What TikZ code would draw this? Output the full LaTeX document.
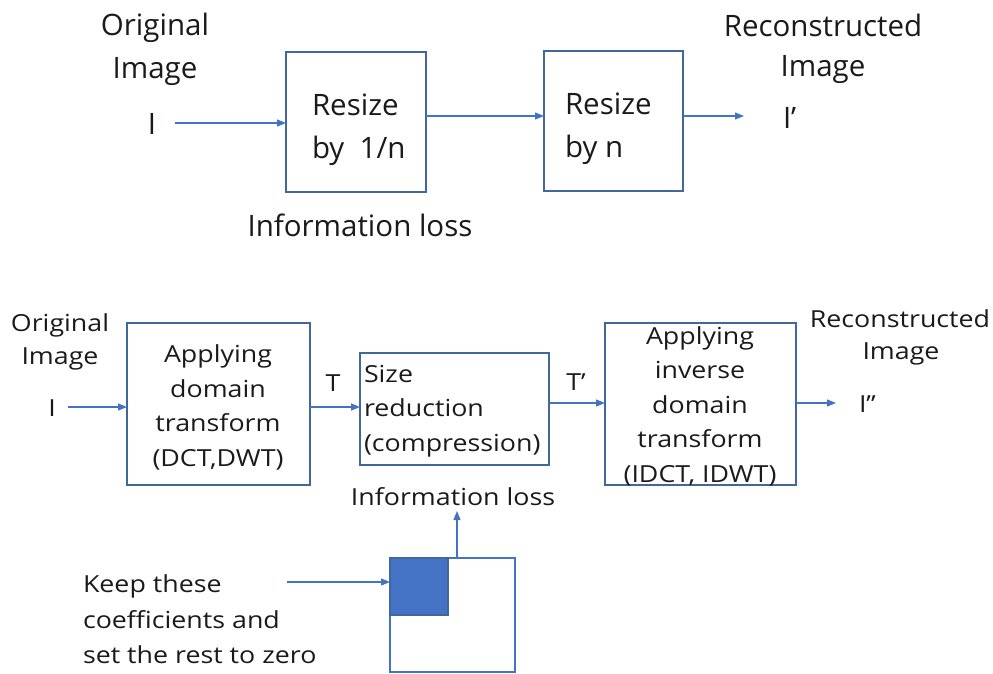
\documentclass[tikz,border=0pt]{standalone}
\usepackage{fontspec}
\setmainfont{Open Sans}
\newfontfamily\widesans[FakeStretch=1.14]{Open Sans}
\usetikzlibrary{arrows.meta}
\definecolor{flow}{HTML}{4472C4}
\definecolor{frame}{HTML}{41679E}
\definecolor{ink}{HTML}{1A1A1A}
\begin{document}
\begin{tikzpicture}[x=1pt,y=-1pt,
  every node/.style={inner sep=0pt,outer sep=0pt,text=ink},
  block/.style={draw=frame,line width=1.4pt,rectangle},
  flowarrow/.style={draw=flow,line width=1.2pt,-{Triangle[length=9pt,width=7pt]}},
  bigtxt/.style={font=\fontsize{29.5}{43}\selectfont},
  smalltxt/.style={font=\widesans\fontsize{23.5}{34.5}\selectfont}]
\useasboundingbox (0,0) rectangle (993,673);

% ---- upper chain: plain resizing ----
\node[bigtxt] (origA) at (155,28) {Original};
\node[bigtxt] (imgA) at (155,72) {Image};
\node[bigtxt] (inA) at (152,124) {I};
\node[block,minimum width=140pt,minimum height=140pt] (down) at (356,122) {};
\node[bigtxt,align=left,anchor=west] (downtxt) at (312,130) {Resize\\by\ \ 1/n};
\node[block,minimum width=139pt,minimum height=140pt] (up) at (613.5,121) {};
\node[bigtxt,align=left,anchor=west] (uptxt) at (565,129) {Resize\\by n};
\node[bigtxt] (recA) at (823,25) {Reconstructed};
\node[bigtxt] (rimgA) at (823,70) {Image};
\node[bigtxt,anchor=west] (outA) at (783,118) {I’};
\node[bigtxt] (lossA) at (360,225) {Information loss};
\coordinate (inAend) at (175,123);
\coordinate (outAend) at (744,116);

\draw[flowarrow] (inAend) -- (down.west|-inAend);
\draw[flowarrow] (down.east|-0,116) -- (up.west|-0,116);
\draw[flowarrow] (up.east|-0,116) -- (outAend);

% ---- lower chain: transform coding ----
\node[smalltxt] (origB) at (60,325) {Original};
\node[smalltxt] (imgB) at (60,359) {Image};
\node[smalltxt] (inB) at (52,408) {I};
\node[block,minimum width=183pt,minimum height=162pt] (fwd) at (218.5,404) {};
\node[smalltxt,align=center] (fwdtxt) at (218,407.5) {Applying\\domain\\transform\\(DCT,DWT)};
\node[block,minimum width=189pt,minimum height=112pt] (red) at (454.5,409) {};
\node[smalltxt,align=left,anchor=west] (redtxt) at (364,411) {Size\\reduction\\(compression)};
\node[block,minimum width=191pt,minimum height=162pt] (inv) at (700.5,404) {};
\node[smalltxt,align=center] (invtxt) at (700,406) {Applying\\inverse\\domain\\transform\\(IDCT, IDWT)};
\node[smalltxt] (tlab) at (333,383) {T};
\node[smalltxt] (tplab) at (576,382) {T’};
\node[smalltxt] (recB) at (900,319) {Reconstructed};
\node[smalltxt] (rimgB) at (901,354) {Image};
\node[smalltxt,anchor=west] (outB) at (859,404) {I”};
\node[smalltxt] (lossB) at (453,497) {Information loss};
\coordinate (inBstart) at (68,407);
\coordinate (outBend) at (836,403);

\draw[flowarrow] (inBstart) -- (fwd.west|-inBstart);
\draw[flowarrow] (fwd.east|-0,407) -- (red.west|-0,407);
\draw[flowarrow] (red.east|-0,403) -- (inv.west|-0,403);
\draw[flowarrow] (inv.east|-0,403) -- (outBend);

% ---- coefficient block with retained low-frequency corner ----
\node[draw=flow,line width=1.4pt,minimum width=125pt,minimum height=114pt,anchor=north west] (coef) at (390,558) {};
\node[draw=frame,line width=1.4pt,fill=flow,minimum width=58pt,minimum height=57pt,anchor=north west] (keep) at (390,558) {};
\node[smalltxt,align=left,anchor=north west,font=\widesans\fontsize{23.5}{35.5}\selectfont] (keeptxt) at (83,575) {Keep these\\coefficients and\\set the rest to zero};
\coordinate (keepstart) at (287,582);
\coordinate (lossfoot) at (457,558);
\coordinate (losshead) at (457,511);

\draw[flowarrow] (keepstart) -- (keep.west|-keepstart);
\draw[flowarrow] (lossfoot) -- (losshead);
\end{tikzpicture}
\end{document}
